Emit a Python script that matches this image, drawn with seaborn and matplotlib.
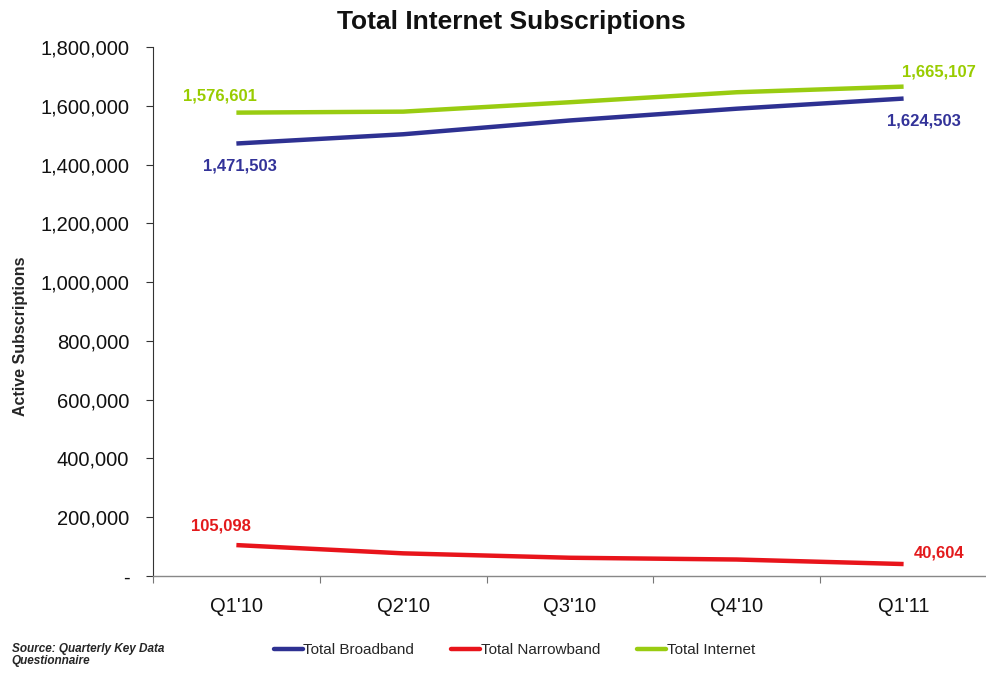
import matplotlib
matplotlib.use("Agg")
import matplotlib.pyplot as plt
import matplotlib.ticker as mticker
from matplotlib import font_manager
import seaborn as sns
import pandas as pd

quarters = ["Q1'10", "Q2'10", "Q3'10", "Q4'10", "Q1'11"]
broadband = [1471503, 1503000, 1550000, 1590000, 1624503]
narrowband = [105098, 77000, 62000, 56000, 40604]
internet = [1576601, 1580000, 1612000, 1646000, 1665107]
series_names = ["Total Broadband", "Total Narrowband", "Total Internet"]
yticks = [0, 200000, 400000, 600000, 800000, 1000000, 1200000, 1400000, 1600000, 1800000]

colors = {"Total Broadband": "#2E3192", "Total Narrowband": "#E8141B", "Total Internet": "#99CC11"}
label_colors = {"Total Broadband": "#333399", "Total Narrowband": "#E31A1C", "Total Internet": "#99CC00"}

installed = {f.name for f in font_manager.fontManager.ttflist}
narrow = "Liberation Sans Narrow" if "Liberation Sans Narrow" in installed else "Liberation Sans"

sns.set_theme(style="white")
plt.rcParams["font.family"] = ["Liberation Sans", "DejaVu Sans"]

df = pd.DataFrame({
    "Quarter": quarters * 3,
    "Series": [n for n in series_names for _ in quarters],
    "Value": broadband + narrowband + internet,
})

fig = plt.figure(figsize=(9.87, 6.75), dpi=100)
ax = fig.add_axes([0.155, 0.1467, 0.845, 0.7837])

sns.lineplot(data=df, x="Quarter", y="Value", hue="Series", palette=colors,
             linewidth=3.2, sort=False, ax=ax, legend=False, solid_capstyle="butt")

ax.set_xlim(-0.5, 4.5)
ax.set_ylim(0, 1800000)
ax.set_yticks(yticks)
ax.yaxis.set_major_formatter(mticker.FuncFormatter(lambda v, p: "-" if v == 0 else f"{int(v):,}"))
ax.tick_params(axis="y", which="major", direction="out", length=5, width=0.8, color="#333333",
               labelsize=14.5, labelcolor="#111111", pad=12, left=True)
ax.set_xticks(range(len(quarters)))
ax.set_xticklabels(quarters)
ax.tick_params(axis="x", which="major", length=0, labelsize=14.5, labelcolor="#111111", pad=15)
ax.set_xticks([i - 0.5 for i in range(len(quarters) + 1)], minor=True)
ax.tick_params(axis="x", which="minor", direction="out", length=5, width=0.8, color="#777777", bottom=True)

for side in ["top", "right"]:
    ax.spines[side].set_visible(False)
ax.spines["left"].set_color("#333333")
ax.spines["left"].set_linewidth(0.8)
ax.spines["bottom"].set_color("#888888")
ax.spines["bottom"].set_linewidth(1.0)
ax.grid(False)

ax.set_xlabel("")
ax.set_ylabel("Active Subscriptions", fontsize=11.5, fontweight="bold", family=narrow)
ax.yaxis.set_label_coords(28 / 987, 1 - 336 / 675, transform=fig.transFigure)
fig.text(0.518, 0.967, "Total Internet Subscriptions", fontsize=19, fontweight="bold",
         ha="center", va="center", color="#111111")

# end-point value labels
def label(series, values, idx, dx, dy):
    ax.annotate(f"{values[idx]:,}", (idx, values[idx]), xytext=(dx, dy), textcoords="offset pixels",
                ha="center", va="center", fontsize=12, fontweight="bold",
                color=label_colors[series], family=narrow)

label("Total Internet", internet, 0, -16, 17)
label("Total Broadband", broadband, 0, 4, -22)
label("Total Internet", internet, 4, 35, 15)
label("Total Broadband", broadband, 4, 20, -22)
label("Total Narrowband", narrowband, 0, -15, 19)
label("Total Narrowband", narrowband, 4, 35, 11)

handles = [plt.Line2D([], [], color=colors[n], linewidth=3.2) for n in series_names]
fig.legend(handles, series_names, loc="center", bbox_to_anchor=(0.521, 0.037), ncol=3, frameon=False,
           handlelength=1.9, handletextpad=0.05, columnspacing=2.4,
           prop={"family": narrow, "size": 11})

fig.text(0.012, 0.03, "Source: Quarterly Key Data\nQuestionnaire", fontsize=8.5, fontstyle="italic",
         fontweight="bold", family=narrow, va="center", ha="left", linespacing=1.0)

fig.savefig("out.png", dpi=100, facecolor="white")
